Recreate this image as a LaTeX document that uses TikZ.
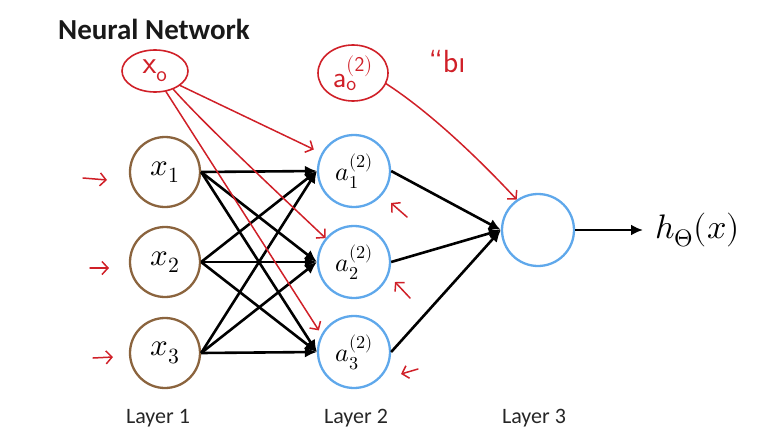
\documentclass[tikz,border=0pt]{standalone}
\usepackage{fontspec}
\usepackage{unicode-math}
\newfontfamily\carlito{Carlito}
\usetikzlibrary{arrows.meta,shapes.geometric}
\definecolor{inbrown}{RGB}{139,100,62}
\definecolor{hidblue}{RGB}{95,168,235}
\definecolor{pen}{RGB}{208,32,40}
\begin{document}
\begin{tikzpicture}[x=1pt,y=-1pt,
  unit/.style={circle,draw,line width=2.3pt,minimum size=70pt,inner sep=0pt},
  inunit/.style={unit,draw=inbrown,font=\fontsize{31}{34}\selectfont},
  hidunit/.style={unit,draw=hidblue,minimum size=72pt,font=\fontsize{26}{28}\selectfont},
  edge/.style={line width=2.6pt,-{Latex[length=12pt,width=11pt]}},
  penline/.style={pen,line width=1.5pt,line cap=round,-{Straight Barb[length=6pt,width=13pt,line width=1.5pt]}},
  penellipse/.style={ellipse,draw=pen,line width=1.6pt,text=pen,inner sep=0pt},
  layer/.style={font=\carlito\fontsize{22}{24}\selectfont,text=black!85},
]
\useasboundingbox (0,0) rectangle (767,444);

% title
\node[font=\carlito\bfseries\fontsize{29}{32}\selectfont,anchor=west,inner sep=0pt,text=black!90] (title) at (58,29) {Neural Network};

% units
\node[inunit] (x1) at (165,172) {$x_1$};
\node[inunit] (x2) at (165,262) {$x_2$};
\node[inunit] (x3) at (165,353) {$x_3$};
\node[hidunit] (a1) at (354,171) {$a_1^{(2)}$};
\node[hidunit] (a2) at (354,262) {$a_2^{(2)}$};
\node[hidunit] (a3) at (354,352) {$a_3^{(2)}$};
\node[hidunit] (out) at (538,230) {};
\node[font=\fontsize{34}{38}\selectfont,anchor=west,inner sep=0pt] (h) at (655,230) {$h_\Theta(x)$};

% connectors
\foreach \i in {1,2,3}{
  \foreach \j in {1,2,3}{
    \draw[edge] (x\i.east) -- (a\j.west);
  }
  \draw[edge] (a\i.east) -- (out.west);
}
\draw[edge] (out.east) -- ([xshift=-12pt]h.west);

% layer labels
\node[layer] (l1) at (158,418) {Layer 1};
\node[layer] (l2) at (356,418) {Layer 2};
\node[layer] (l3) at (534,418) {Layer 3};

% handwritten annotations
\node[penellipse,minimum width=66pt,minimum height=42pt,font=\fontsize{32}{34}\selectfont] (x0) at (155,71) {$\mathsf{x}_{\mathsf{o}}$};
\node[penellipse,minimum width=70pt,minimum height=56pt,font=\fontsize{30}{32}\selectfont] (a0) at (353,73) {$\mathsf{a}^{\mathsf{(2)}}_{\mathsf{o}}$};
\node[text=pen,font=\sffamily\fontsize{32}{34}\selectfont] (bias) at (447,62) {``b{\i}};

\draw[penline] (x0.-30) -- ([shift={(-8,-3)}]a1.150);
\draw[penline] (x0.-45) .. controls (205,125) and (280,195) .. (a2.140);
\draw[penline] (x0.-62) -- ([shift={(-3,-3)}]a3.150);
\draw[penline] (a0.-18) .. controls (430,112) and (480,160) .. (out.125);

\coordinate (s1) at (83,178); \coordinate (e1) at (107,180);
\coordinate (s2) at (90,268); \coordinate (e2) at (109,268);
\coordinate (s3) at (93,358); \coordinate (e3) at (113,357);
\draw[penline] (s1) -- (e1);
\draw[penline] (s2) -- (e2);
\draw[penline] (s3) -- (e3);

\coordinate (r1s) at (407,217); \coordinate (r1e) at (391,203);
\coordinate (r2s) at (410,298); \coordinate (r2e) at (395,282);
\coordinate (r3s) at (418,369); \coordinate (r3e) at (401,374);
\draw[penline] (r1s) -- (r1e);
\draw[penline] (r2s) -- (r2e);
\draw[penline] (r3s) -- (r3e);
\end{tikzpicture}
\end{document}
